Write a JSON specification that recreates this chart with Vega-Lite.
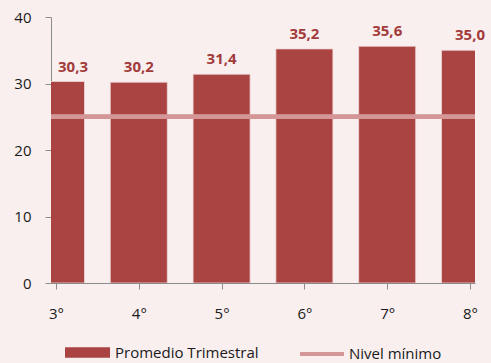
{
  "$schema": "https://vega.github.io/schema/vega-lite/v6.json",
  "width": 424,
  "height": 266,
  "autosize": "none",
  "padding": {"left": 51, "top": 17, "right": 16, "bottom": 80},
  "background": "#F9EFEF",
  "config": {
    "view": {"stroke": null},
    "font": "Open Sans",
    "locale": {"number": {"decimal": ",", "thousands": ".", "grouping": [3], "currency": ["", "€"]}}
  },
  "data": {
    "values": [
      {"trimestre": 3, "valor": 30.3},
      {"trimestre": 4, "valor": 30.2},
      {"trimestre": 5, "valor": 31.4},
      {"trimestre": 6, "valor": 35.2},
      {"trimestre": 7, "valor": 35.6},
      {"trimestre": 8, "valor": 35.0}
    ]
  },
  "layer": [
    {
      "mark": {"type": "bar", "width": 57, "clip": true, "stroke": "#F0D6D6", "strokeWidth": 0.8},
      "encoding": {
        "x": {
          "field": "trimestre", "type": "quantitative",
          "scale": {"domain": [3, 8], "nice": false, "zero": false},
          "axis": {
            "title": null, "values": [3, 4, 5, 6, 7, 8], "labelExpr": "datum.value + '°'",
            "grid": false, "domainColor": "#8C8C8C", "tickColor": "#8C8C8C", "tickSize": 6,
            "labelFontSize": 15, "labelColor": "#1A1A1A", "labelPadding": 17, "labelFlush": false
          }
        },
        "y": {
          "field": "valor", "type": "quantitative",
          "scale": {"domain": [0, 40], "nice": false},
          "axis": {
            "title": null, "values": [0, 10, 20, 30, 40], "grid": false,
            "domainColor": "#8C8C8C", "tickColor": "#8C8C8C", "tickSize": 6,
            "labelFontSize": 15, "labelColor": "#1A1A1A", "labelPadding": 14
          }
        },
        "fill": {
          "datum": "Promedio Trimestral", "type": "nominal",
          "scale": {"range": ["#A94442"]},
          "legend": {
            "title": null, "orient": "none", "legendX": 14, "legendY": 313,
            "symbolType": "M-1,-0.23H1V0.23H-1Z", "symbolSize": 2025, "symbolStrokeWidth": 0,
            "labelFontSize": 15, "labelColor": "#1A1A1A", "labelOffset": 5, "padding": 0
          }
        }
      }
    },
    {
      "mark": {"type": "rule", "strokeWidth": 4},
      "encoding": {
        "y": {"datum": 25, "type": "quantitative"},
        "stroke": {
          "datum": "Nivel mínimo", "type": "nominal",
          "scale": {"range": ["#D49696"]},
          "legend": {
            "title": null, "orient": "none", "legendX": 247, "legendY": 313,
            "symbolType": "stroke", "symbolSize": 1936, "symbolStrokeWidth": 4,
            "labelFontSize": 15, "labelColor": "#1A1A1A", "labelOffset": 3, "padding": 0
          }
        }
      }
    },
    {
      "transform": [{"filter": "datum.trimestre == 3"}],
      "mark": {"type": "text", "align": "left", "baseline": "alphabetic", "dx": 2, "dy": -10, "fontSize": 15, "fontWeight": "bold", "color": "#A23B3B"},
      "encoding": {
        "x": {"field": "trimestre", "type": "quantitative"},
        "y": {"field": "valor", "type": "quantitative"},
        "text": {"field": "valor", "type": "quantitative", "format": ".1f"}
      }
    },
    {
      "transform": [{"filter": "datum.trimestre != 3"}],
      "mark": {"type": "text", "align": "center", "baseline": "alphabetic", "dy": -10, "fontSize": 15, "fontWeight": "bold", "color": "#A23B3B"},
      "encoding": {
        "x": {"field": "trimestre", "type": "quantitative"},
        "y": {"field": "valor", "type": "quantitative"},
        "text": {"field": "valor", "type": "quantitative", "format": ".1f"}
      }
    }
  ]
}
